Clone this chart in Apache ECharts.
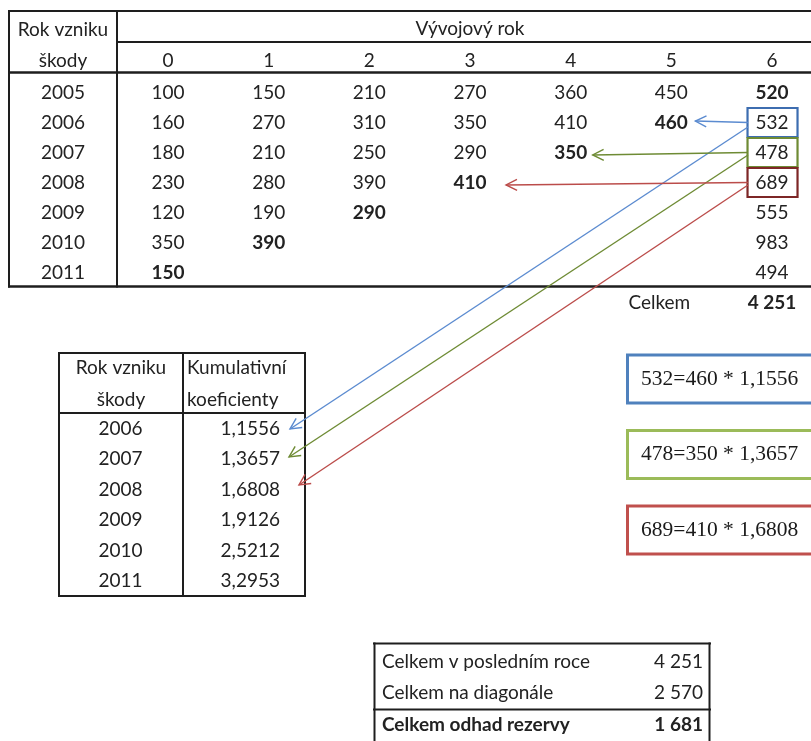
<!DOCTYPE html>
<html>
<head>
<meta charset="utf-8">
<script src="https://cdn.jsdelivr.net/npm/echarts@6/dist/echarts.min.js"></script>
<style>
  html, body { margin: 0; padding: 0; background: #fff; }
  #c { width: 811px; height: 741px; }
</style>
</head>
<body>
<div id="c"></div>
<script>
// ---- Data: cumulative claims triangle (rows = accident year, columns = development year)
const accidentYears = [2005, 2006, 2007, 2008, 2009, 2010, 2011];
const devYears = ['0', '1', '2', '3', '4', '5', '6'];
const devTitle = 'Vývojový rok';
const triangle = [
  [100, 150, 210, 270, 360, 450, 520],
  [160, 270, 310, 350, 410, 460],
  [180, 210, 250, 290, 350],
  [230, 280, 390, 410],
  [120, 190, 290],
  [350, 390],
  [150]
];
// Projected values in development year 6 for accident years 2006..2011
const projected = [532, 478, 689, 555, 983, 494];
const totalLabel = 'Celkem';
const totalProjected = 4251;

// Cumulative development factors
const coefYears = [2006, 2007, 2008, 2009, 2010, 2011];
const coefficients = [1.1556, 1.3657, 1.6808, 1.9126, 2.5212, 3.2953];

// Reserve summary
const summaryLabels = ['Celkem v posledním roce', 'Celkem na diagonále', 'Celkem odhad rezervy'];
const summaryValues = [4251, 2570, 1681];

// ---- Formatting helpers
const fmtInt = n => String(n).replace(/\B(?=(\d{3})+(?!\d))/g, ' ');
const fmtDec = n => n.toFixed(4).replace('.', ',');

// ---- Styles / layout
const FONT = 'Lato, "Open Sans", sans-serif';
const FS = 19;
const INK = '#222';
const LINE = '#1e1e1e';
const COL_W = 100.67;          // width of one development-year column
const MAIN_LEFT = 117.67;
// worked examples for accident years 2006..2008
const links = [
  { row: 1, box: '#3d6db0', arrow: '#5b8bd0', frame: '#4f81bd', tipDx: 24, tipDy: -1.5, startDy: 4.5, coefTipDx: 46.5, coefTipDy: 0.5 },
  { row: 2, box: '#6e8b34', arrow: '#6e8b34', frame: '#9bbb59', tipDx: 22, tipDy: 2.5, startDy: 2.5, coefTipDx: 45.5, coefTipDy: -2 },
  { row: 3, box: '#7d2626', arrow: '#bb4c4a', frame: '#c0504d', tipDx: 36, tipDy: 2.5, startDy: 2.5, coefTipDx: 55.5, coefTipDy: -4.5 }
];

// ---- Cells of the triangle table
const mainCells = [];
devYears.forEach((d, c) => mainCells.push({ col: c, row: 0, text: d, header: 17 }));
mainCells.push({ col: 3, row: 0, text: devTitle, header: 48.5 });
triangle.forEach((vals, r) => {
  vals.forEach((v, c) => {
    mainCells.push({ col: c, row: r, text: fmtInt(v), bold: c === vals.length - 1 });
  });
  if (r > 0) {
    const lk = links.find(l => l.row === r);
    mainCells.push({ col: 6, row: r, text: fmtInt(projected[r - 1]), bold: false, box: lk ? lk.box : null });
  }
});
mainCells.push({ col: 5, row: 7, text: totalLabel, bold: false, dx: -12 });
mainCells.push({ col: 6, row: 7, text: fmtInt(totalProjected), bold: true });

// ---- Cells of the factor table
const coefCells = [];
coefYears.forEach((y, i) => {
  coefCells.push({ col: 0, row: i, text: String(y), align: 'center', dx: 0 });
  coefCells.push({ col: 1, row: i, text: fmtDec(coefficients[i]), align: 'right', dx: 36.5 });
});

// ---- Worked examples: projected = diagonal * factor
const formulas = links.map(l => {
  const diagRow = triangle[l.row];
  return projected[l.row - 1] + '=' + diagRow[diagRow.length - 1] + ' * ' + fmtDec(coefficients[l.row - 1]);
});

function textEl(x, y, text, opts) {
  opts = opts || {};
  return {
    type: 'text',
    x: x, y: y,
    style: {
      text: text,
      fill: opts.fill || INK,
      fontFamily: opts.family || FONT,
      fontSize: opts.size || FS,
      fontWeight: opts.bold ? 'bold' : 'normal',
      align: opts.align || 'center',
      verticalAlign: 'middle'
    }
  };
}

const hiddenCat = (data, extra) => Object.assign({
  type: 'category', data: data, boundaryGap: true,
  axisLine: { show: false }, axisTick: { show: false },
  splitLine: { show: false }, axisLabel: { show: false }
}, extra || {});

const mainWidth = 811 - MAIN_LEFT;

const option = {
  animation: false,
  backgroundColor: '#fff',
  grid: [
    { left: MAIN_LEFT, top: 77.5, right: 0, height: 240 },    // triangle
    { left: 59, top: 413.25, width: 246, height: 183 },        // factors
    { left: 374, top: 645.5, width: 336, height: 99 },         // summary
    { left: 626, top: 341.25, right: 0, height: 226.5 }        // worked examples
  ],
  xAxis: [
    {
      type: 'value', gridIndex: 0,
      min: -0.5, max: -0.5 + mainWidth / COL_W,
      axisLine: { show: false }, axisTick: { show: false },
      splitLine: { show: false }, axisLabel: { show: false }
    },
    hiddenCat(['Rok', 'Koef'], { gridIndex: 1 }),
    hiddenCat(['Popis'], { gridIndex: 2 }),
    hiddenCat(['Vzorec'], { gridIndex: 3 })
  ],
  yAxis: [
    hiddenCat(accidentYears.map(String).concat(['']), {
      gridIndex: 0, inverse: true,
      axisLabel: { show: true, align: 'center', margin: 54.67, color: INK, fontFamily: FONT, fontSize: FS }
    }),
    hiddenCat(coefYears.map(String), { gridIndex: 1, inverse: true }),
    hiddenCat(summaryLabels, { gridIndex: 2, inverse: true }),
    hiddenCat(formulas, { gridIndex: 3, inverse: true })
  ],
  series: [
    {
      type: 'custom', xAxisIndex: 0, yAxisIndex: 0,
      data: mainCells.map(c => [c.col, c.row]),
      renderItem: function (params, api) {
        const cell = mainCells[params.dataIndex];
        const p = api.coord([api.value(0), api.value(1)]);
        if (cell.header) {
          return textEl(p[0], params.coordSys.y - cell.header, cell.text);
        }
        const children = [textEl(p[0] + (cell.dx || 0), p[1], cell.text, { bold: cell.bold })];
        if (cell.box) {
          children.push({
            type: 'rect',
            shape: { x: p[0] - 24.5, y: p[1] - 14.5, width: 50, height: 29 },
            style: { fill: 'none', stroke: cell.box, lineWidth: 2.2 }
          });
        }
        return { type: 'group', children: children };
      }
    },
    {
      type: 'custom', xAxisIndex: 1, yAxisIndex: 1,
      data: coefCells.map(c => [c.col, c.row]),
      renderItem: function (params, api) {
        const cell = coefCells[params.dataIndex];
        const p = api.coord([api.value(0), api.value(1)]);
        return textEl(p[0] + cell.dx, p[1], cell.text, { align: cell.align });
      }
    },
    {
      type: 'custom', xAxisIndex: 2, yAxisIndex: 2,
      data: summaryValues.map((v, i) => [0, i, v]),
      renderItem: function (params, api) {
        const i = params.dataIndex;
        const cs = params.coordSys;
        const p = api.coord([0, api.value(1)]);
        const bold = i === summaryValues.length - 1;
        return {
          type: 'group',
          children: [
            textEl(cs.x + 8, p[1], summaryLabels[i], { align: 'left', bold: bold }),
            textEl(cs.x + cs.width - 7, p[1], fmtInt(api.value(2)), { align: 'right', bold: bold })
          ]
        };
      }
    },
    {
      type: 'custom', xAxisIndex: 3, yAxisIndex: 3,
      data: formulas.map((f, i) => [0, i]),
      renderItem: function (params, api) {
        const i = params.dataIndex;
        const cs = params.coordSys;
        const p = api.coord([0, api.value(1)]);
        return {
          type: 'group',
          children: [
            {
              type: 'rect',
              shape: { x: cs.x + 1.5, y: p[1] - 24, width: cs.width + 20, height: 48 },
              style: { fill: '#fff', stroke: links[i].frame, lineWidth: 3 }
            },
            textEl(cs.x + 15, p[1], formulas[i], { align: 'left', family: '"Liberation Serif", "Times New Roman", serif', size: 21.5, fill: '#1a1a1a' })
          ]
        };
      }
    }
  ]
};

const chart = echarts.init(document.getElementById('c'), null, { renderer: 'canvas' });
chart.setOption(option);

// ---- Table rules and connector arrows, placed from the grids' own pixel mapping
function hLine(x1, x2, y, w) {
  return { type: 'line', shape: { x1: x1, y1: y, x2: x2, y2: y }, style: { stroke: LINE, lineWidth: w || 2 }, z: 10 };
}
function vLine(x, y1, y2, w) {
  return { type: 'line', shape: { x1: x, y1: y1, x2: x, y2: y2 }, style: { stroke: LINE, lineWidth: w || 2 }, z: 10 };
}
function arrow(from, to, color) {
  const dx = to[0] - from[0], dy = to[1] - from[1];
  const len = Math.sqrt(dx * dx + dy * dy);
  const ux = dx / len, uy = dy / len;
  const hl = 11, hw = 5.5;
  const bx = to[0] - ux * hl, by = to[1] - uy * hl;
  return [
    { type: 'line', shape: { x1: from[0], y1: from[1], x2: to[0], y2: to[1] }, style: { stroke: color, lineWidth: 1.4 }, z: 20 },
    { type: 'polyline', shape: { points: [[bx - uy * hw, by + ux * hw], to, [bx + uy * hw, by - ux * hw]] }, style: { stroke: color, lineWidth: 1.4, fill: null }, z: 20 }
  ];
}

const g = [];
// triangle table frame
g.push(hLine(8, 811, 11));
g.push(hLine(117, 811, 42));
g.push(hLine(8, 811, 72.5, 2.4));
g.push(hLine(8, 811, 286.5, 2.4));
g.push(vLine(9, 10, 287.5));
g.push(vLine(117, 10, 287.5));
// header of the accident-year column
g.push(textEl(63, 30, 'Rok vzniku'));
g.push(textEl(63, 60.5, 'škody'));

// factor table frame
g.push(hLine(58, 306, 353));
g.push(hLine(58, 306, 413));
g.push(hLine(58, 306, 596));
g.push(vLine(59, 352, 597));
g.push(vLine(183, 352, 597));
g.push(vLine(305, 352, 597));
g.push(textEl(121, 368, 'Rok vzniku'));
g.push(textEl(121, 399.5, 'škody'));
g.push(textEl(187, 368, 'Kumulativní', { align: 'left' }));
g.push(textEl(187, 399.5, 'koeficienty', { align: 'left' }));

// summary table frame
g.push(hLine(373, 711, 643.5));
g.push(hLine(373, 711, 709.5));
g.push(vLine(374.5, 642.5, 745));
g.push(vLine(709.5, 642.5, 745));

// connectors from projected cells to the diagonal values and to the factors
links.forEach(l => {
  const cell = chart.convertToPixel({ xAxisIndex: 0, yAxisIndex: 0 }, [6, l.row]);
  const diagCol = triangle[l.row].length - 1;
  const diag = chart.convertToPixel({ xAxisIndex: 0, yAxisIndex: 0 }, [diagCol, l.row]);
  const coef = chart.convertToPixel({ xAxisIndex: 1, yAxisIndex: 1 }, [1, l.row - 1]);
  const boxLeft = cell[0] - 24;
  arrow([boxLeft, cell[1]], [diag[0] + l.tipDx, diag[1] + l.tipDy], l.arrow).forEach(e => g.push(e));
  arrow([boxLeft, cell[1] + l.startDy], [coef[0] + l.coefTipDx, coef[1] + l.coefTipDy], l.arrow).forEach(e => g.push(e));
});

chart.setOption({ graphic: { elements: g } });
</script>
</body>
</html>
